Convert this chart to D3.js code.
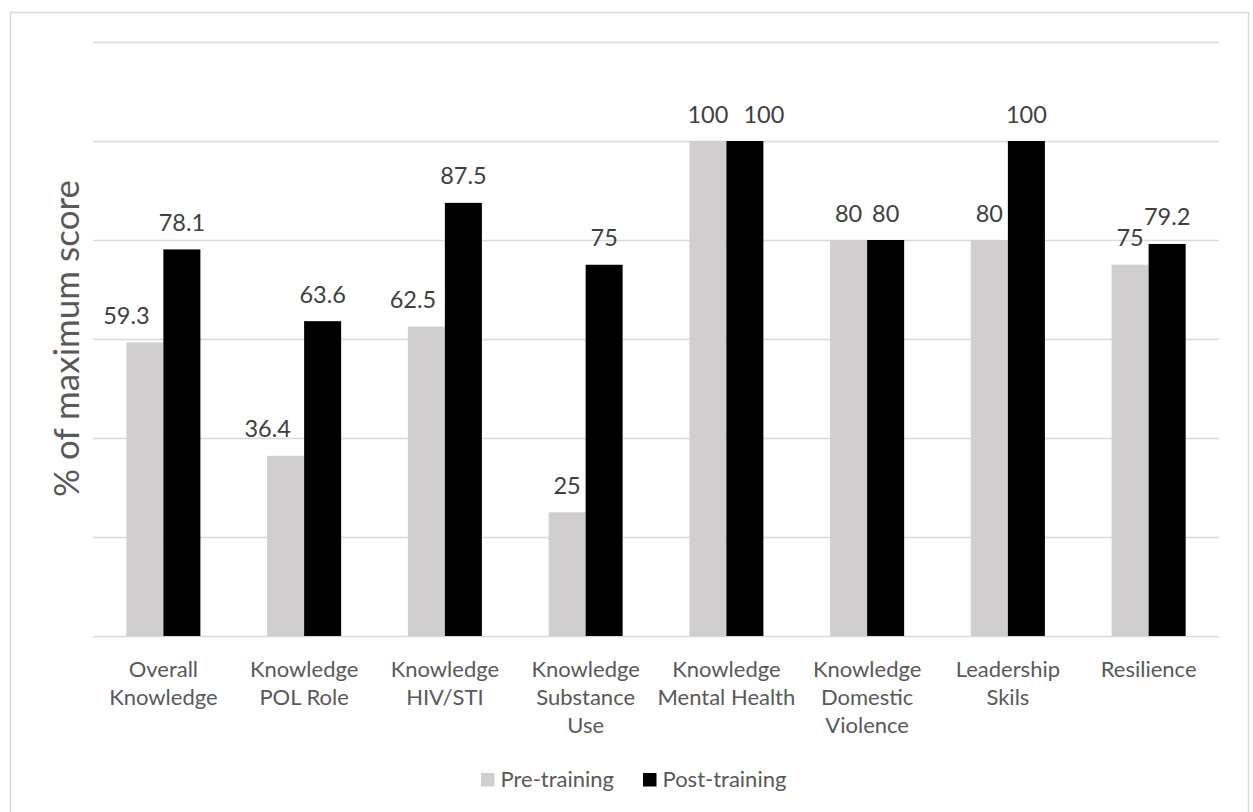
<!DOCTYPE html>
<html>
<head>
<meta charset="utf-8">
<script src="https://cdn.jsdelivr.net/npm/d3@7"></script>
<style>
  html, body { margin: 0; padding: 0; background: #ffffff; }
  svg { display: block; }
  text { font-family: Lato, "Open Sans", sans-serif; }
</style>
</head>
<body>
<svg id="chart" width="1253" height="812"></svg>
<script>
// ---- data ----
const categories = [
  "Overall\nKnowledge",
  "Knowledge\nPOL Role",
  "Knowledge\nHIV/STI",
  "Knowledge\nSubstance\nUse",
  "Knowledge\nMental Health",
  "Knowledge\nDomestic\nViolence",
  "Leadership\nSkils",
  "Resilience"
];
const seriesNames = ["Pre-training", "Post-training"];
const preTraining  = [59.3, 36.4, 62.5, 25, 100, 80, 80, 75];
const postTraining = [78.1, 63.6, 87.5, 75, 100, 80, 100, 79.2];
const yTicks = [0, 20, 40, 60, 80, 100, 120];

// ---- layout / style ----
const W = 1253, H = 812;
const plot = { left: 93, right: 1219, top: 42, bottom: 636 };
const colors = { "Pre-training": "#d0cece", "Post-training": "#000000" };
const gridColor = "#d9d9d9";
// manual label nudges (px), as in the original where some labels were moved
const labelNudge = {
  "Pre-training":  [-18.5, -18, -13.5, 0, 0, 0, 0, 0],
  "Post-training": [0, 0, 0, 0, 19, 0, 0, 0]
};

const svg = d3.select("#chart");

// outer chart border
svg.append("rect")
  .attr("x", 10.5).attr("y", 12.5)
  .attr("width", 1238).attr("height", 820)
  .attr("fill", "none").attr("stroke", gridColor).attr("stroke-width", 1.5);

const x0 = d3.scaleBand()
  .domain(categories)
  .range([plot.left, plot.right])
  .paddingInner(0.474)
  .paddingOuter(0.237);

const x1 = d3.scaleBand()
  .domain(seriesNames)
  .range([0, x0.bandwidth()])
  .padding(0);

const y = d3.scaleLinear()
  .domain([0, 120])
  .range([plot.bottom, plot.top]);

// gridlines via axis
const yAxis = d3.axisLeft(y)
  .tickValues(yTicks)
  .tickSize(-(plot.right - plot.left))
  .tickFormat("");
const gy = svg.append("g")
  .attr("transform", `translate(${plot.left},0)`)
  .call(yAxis);
gy.select(".domain").remove();
gy.selectAll(".tick line").attr("stroke", gridColor).attr("stroke-width", 1.5);

// data rows
const rows = categories.map((c, i) => ({
  cat: c,
  values: [
    { key: "Pre-training", value: preTraining[i], idx: i },
    { key: "Post-training", value: postTraining[i], idx: i }
  ]
}));

const groups = svg.append("g").selectAll("g")
  .data(rows)
  .join("g")
  .attr("transform", d => `translate(${x0(d.cat)},0)`);

groups.selectAll("rect")
  .data(d => d.values)
  .join("rect")
  .attr("x", d => x1(d.key))
  .attr("y", d => y(d.value))
  .attr("width", x1.bandwidth())
  .attr("height", d => y(0) - y(d.value))
  .attr("fill", d => colors[d.key]);

groups.selectAll("text.val")
  .data(d => d.values)
  .join("text")
  .attr("class", "val")
  .attr("x", d => x1(d.key) + x1.bandwidth() / 2 + labelNudge[d.key][d.idx])
  .attr("y", d => y(d.value) - 18.5)
  .attr("text-anchor", "middle")
  .attr("font-size", 23.5)
  .attr("fill", "#404040")
  .text(d => d.value);

// x axis category labels
const xAxis = d3.axisBottom(x0).tickSize(0).tickFormat("");
const gx = svg.append("g")
  .attr("transform", `translate(0,${plot.bottom})`)
  .call(xAxis);
gx.select(".domain").remove();
gx.selectAll(".tick").each(function(d) {
  const t = d3.select(this).append("text")
    .attr("text-anchor", "middle")
    .attr("font-size", 22)
    .attr("fill", "#595959");
  d.split("\n").forEach((line, k) => {
    t.append("tspan").attr("x", 0).attr("y", 41 + k * 28).text(line);
  });
});

// y axis title
svg.append("text")
  .attr("transform", `translate(79,338.5) rotate(-90)`)
  .attr("text-anchor", "middle")
  .attr("font-size", 35)
  .attr("fill", "#595959")
  .text("% of maximum score");

// legend
const legend = svg.append("g");
const legendItems = [
  { key: "Pre-training", x: 481 },
  { key: "Post-training", x: 643 }
];
legendItems.forEach(it => {
  legend.append("rect")
    .attr("x", it.x).attr("y", 773)
    .attr("width", 13.5).attr("height", 13.5)
    .attr("fill", colors[it.key]);
  legend.append("text")
    .attr("x", it.x + 19.5).attr("y", 787)
    .attr("font-size", 22)
    .attr("fill", "#595959")
    .text(it.key);
});
</script>
</body>
</html>
